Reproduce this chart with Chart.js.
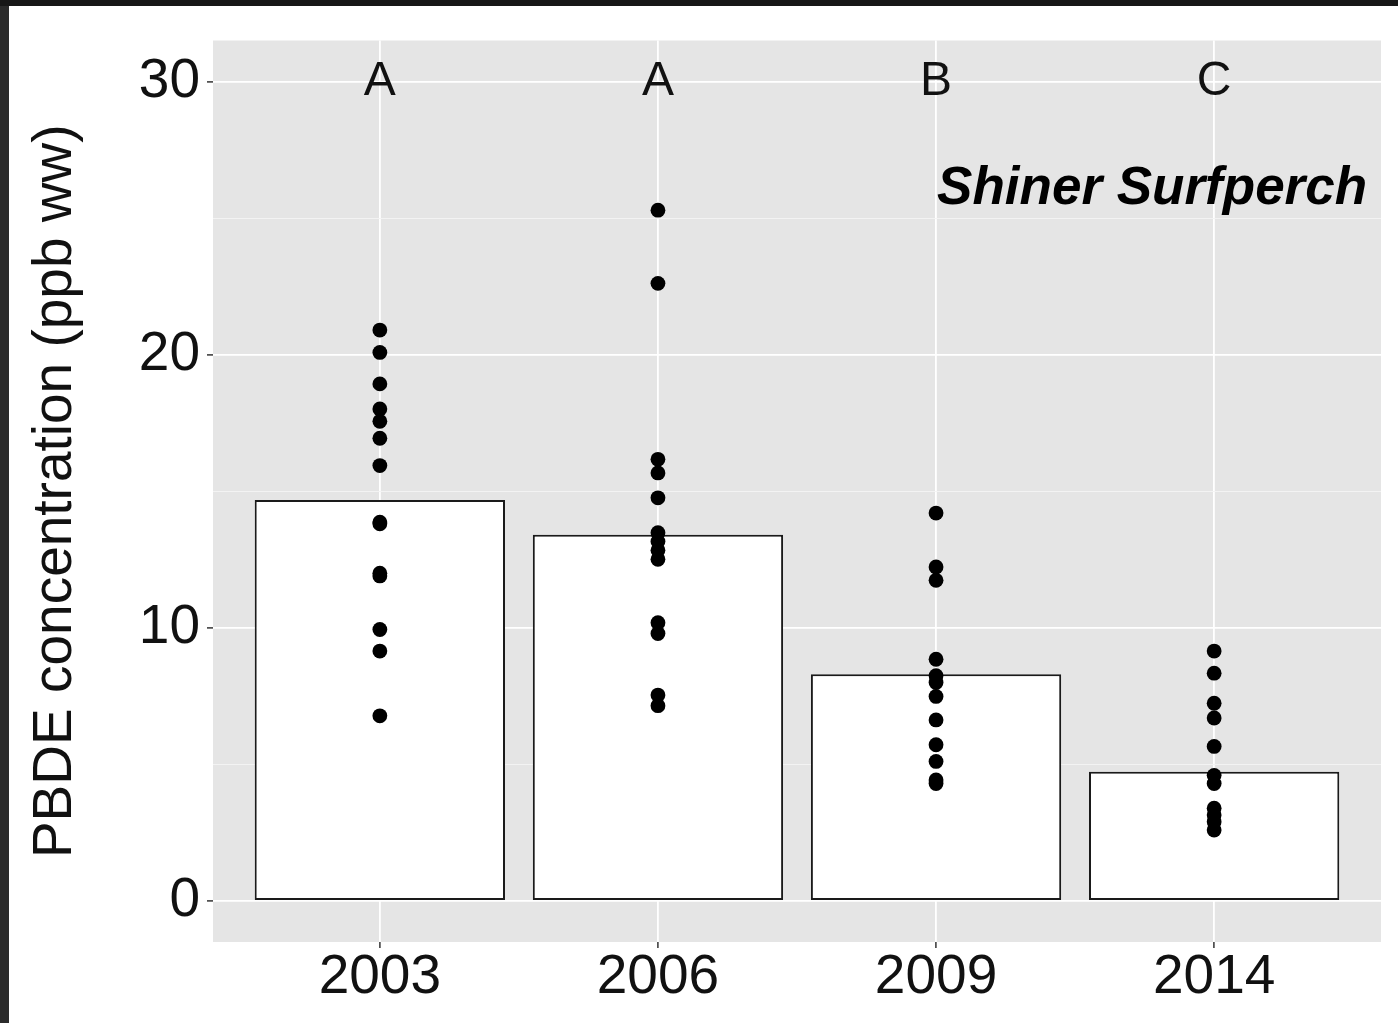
<!DOCTYPE html>
<html>
<head>
<meta charset="utf-8">
<script src="https://cdn.jsdelivr.net/npm/chart.js@4.4.0/dist/chart.umd.min.js"></script>
<style>
  html, body { margin: 0; padding: 0; background: #171717; width: 1398px; height: 1023px; overflow: hidden; }
  #edge { position: absolute; left: 0; top: 6px; width: 9px; height: 1017px; background: #2b2b2b; }
  #wrap { position: absolute; left: 9px; top: 6px; }
</style>
</head>
<body>
<div id="edge"></div>
<div id="wrap"><canvas id="chart" width="1389" height="1017"></canvas></div>
<script>
const years = ['2003', '2006', '2009', '2014']
const barValues = [14.68, 13.41, 8.30, 4.73]

// single fish values per year
const points2003 = [20.9, 20.08, 18.93, 18.01, 17.56, 16.94, 15.94, 13.87, 13.81, 12.0, 11.9, 9.94, 9.15, 6.78]
const points2006 = [25.29, 22.61, 16.17, 15.67, 14.76, 13.48, 13.16, 12.84, 12.51, 10.19, 9.79, 7.54, 7.15]
const points2009 = [14.2, 12.23, 11.74, 8.85, 8.25, 8.0, 7.49, 6.63, 5.72, 5.11, 4.43, 4.3]
const points2014 = [9.15, 8.34, 7.24, 6.7, 5.66, 4.6, 4.3, 3.4, 3.15, 2.9, 2.6]

const groupLetters = ['A', 'A', 'B', 'C']
const letterY = 30
const yTicks = [0, 5, 10, 15, 20, 25, 30]
const yLabelled = [0, 10, 20, 30]
const yTitle = 'PBDE concentration (ppb ww)'
const panelLabel = 'Shiner Surfperch'

const FONT = "'Liberation Sans', Arial, sans-serif"

const allPoints = [points2003, points2006, points2009, points2014]
const scatterData = []
allPoints.forEach((list, i) => {
    list.forEach(v => scatterData.push({ x: i, y: v }))
})
const barData = barValues.map((v, i) => ({ x: i, y: v }))

// grey panel + white page
const panelBg = {
    id: 'panelBg',
    beforeDraw(chart) {
        const { ctx, chartArea } = chart
        ctx.save()
        ctx.fillStyle = '#ffffff'
        ctx.fillRect(0, 0, chart.width, chart.height)
        ctx.fillStyle = '#e5e5e5'
        ctx.fillRect(chartArea.left, chartArea.top, chartArea.right - chartArea.left, chartArea.bottom - chartArea.top)
        ctx.restore()
    }
}

// group letters and species label
const labels = {
    id: 'labels',
    afterDatasetsDraw(chart) {
        const { ctx } = chart
        const xs = chart.scales.x
        const ys = chart.scales.y
        ctx.save()
        ctx.fillStyle = '#111'
        ctx.textBaseline = 'middle'
        ctx.textAlign = 'center'
        ctx.font = `48px ${FONT}`
        groupLetters.forEach((l, i) => {
            ctx.fillText(l, xs.getPixelForValue(i), ys.getPixelForValue(letterY))
        })
        ctx.textAlign = 'right'
        ctx.font = `italic bold 53px ${FONT}`
        ctx.fillStyle = '#000'
        ctx.fillText(panelLabel, xs.getPixelForValue(3.55), ys.getPixelForValue(26.05))
        ctx.restore()
    }
}

const isMajor = (ctx) => ctx.tick && yLabelled.includes(ctx.tick.value)

new Chart(document.getElementById('chart'), {
    type: 'bar',
    data: {
        datasets: [
            {
                type: 'scatter',
                data: scatterData,
                order: 0,
                pointRadius: 7.4,
                pointBackgroundColor: '#000',
                pointBorderWidth: 0,
                showLine: false
            },
            {
                type: 'bar',
                data: barData,
                order: 1,
                backgroundColor: '#ffffff',
                borderColor: '#1a1a1a',
                borderWidth: 2,
                borderSkipped: false,
                barPercentage: 0.9,
                categoryPercentage: 1
            }
        ]
    },
    options: {
        responsive: false,
        devicePixelRatio: 1,
        animation: false,
        layout: { padding: { left: 0, top: 32, right: 17, bottom: 0 } },
        plugins: {
            legend: { display: false },
            tooltip: { enabled: false }
        },
        scales: {
            x: {
                type: 'linear',
                min: -0.6,
                max: 3.6,
                offset: false,
                afterBuildTicks: (scale) => {
                    scale.ticks = years.map((y, i) => ({ value: i }))
                },
                afterFit: (scale) => { scale.height = 81 },
                ticks: {
                    callback: (v, i) => years[i],
                    font: { family: FONT, size: 55, lineHeight: 1 },
                    color: '#111',
                    padding: 2,
                    maxRotation: 0,
                    autoSkip: false
                },
                grid: {
                    offset: false,
                    color: '#ffffff',
                    lineWidth: 1.8,
                    tickColor: '#333',
                    tickLength: 6,
                    tickWidth: 1.5
                },
                border: { display: false }
            },
            y: {
                type: 'linear',
                min: -1.5,
                max: 31.5,
                afterBuildTicks: (scale) => {
                    scale.ticks = yTicks.map(v => ({ value: v }))
                },
                afterFit: (scale) => { scale.width = 204 },
                ticks: {
                    callback: (v) => yLabelled.includes(v) ? String(v) : '',
                    font: { family: FONT, size: 55, lineHeight: 1 },
                    color: '#111',
                    padding: 7
                },
                grid: {
                    color: (ctx) => isMajor(ctx) ? '#ffffff' : '#f4f4f4',
                    lineWidth: (ctx) => isMajor(ctx) ? 1.8 : 0.9,
                    tickColor: (ctx) => isMajor(ctx) ? '#333' : 'rgba(0,0,0,0)',
                    tickLength: 6,
                    tickWidth: 1.5
                },
                border: { display: false },
                title: {
                    display: true,
                    text: yTitle,
                    font: { family: FONT, size: 55 },
                    color: '#111',
                    padding: { top: 14, bottom: 0 }
                }
            }
        }
    },
    plugins: [panelBg, labels]
})
</script>
</body>
</html>
